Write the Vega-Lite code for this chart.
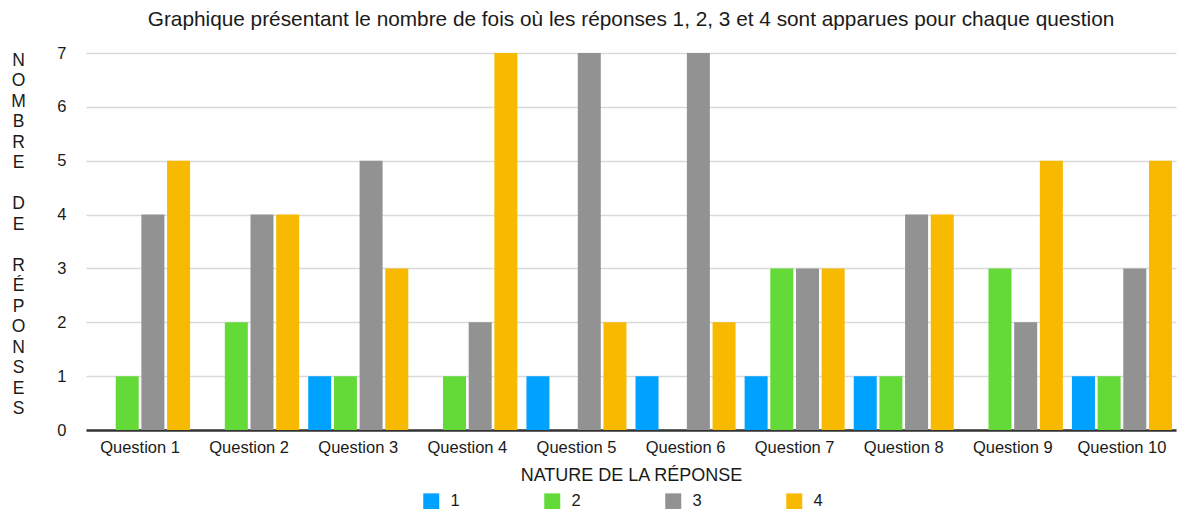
{
  "$schema": "https://vega.github.io/schema/vega-lite/v6.json",
  "autosize": {"type": "none"},
  "width": 1090,
  "height": 377,
  "padding": {"left": 86, "top": 53, "right": 2, "bottom": 79},
  "background": "white",
  "config": {
    "font": "Liberation Sans",
    "view": {"stroke": null}
  },
  "title": {
    "text": "Graphique présentant le nombre de fois où les réponses 1, 2, 3 et 4 sont apparues pour chaque question",
    "fontSize": 20.8,
    "fontWeight": "normal",
    "color": "#1a1a1a",
    "anchor": "middle",
    "offset": 14
  },
  "data": {
    "values": [
      {"question": "Question 1", "reponse": "1", "n": 0},
      {"question": "Question 1", "reponse": "2", "n": 1},
      {"question": "Question 1", "reponse": "3", "n": 4},
      {"question": "Question 1", "reponse": "4", "n": 5},
      {"question": "Question 2", "reponse": "1", "n": 0},
      {"question": "Question 2", "reponse": "2", "n": 2},
      {"question": "Question 2", "reponse": "3", "n": 4},
      {"question": "Question 2", "reponse": "4", "n": 4},
      {"question": "Question 3", "reponse": "1", "n": 1},
      {"question": "Question 3", "reponse": "2", "n": 1},
      {"question": "Question 3", "reponse": "3", "n": 5},
      {"question": "Question 3", "reponse": "4", "n": 3},
      {"question": "Question 4", "reponse": "1", "n": 0},
      {"question": "Question 4", "reponse": "2", "n": 1},
      {"question": "Question 4", "reponse": "3", "n": 2},
      {"question": "Question 4", "reponse": "4", "n": 7},
      {"question": "Question 5", "reponse": "1", "n": 1},
      {"question": "Question 5", "reponse": "2", "n": 0},
      {"question": "Question 5", "reponse": "3", "n": 7},
      {"question": "Question 5", "reponse": "4", "n": 2},
      {"question": "Question 6", "reponse": "1", "n": 1},
      {"question": "Question 6", "reponse": "2", "n": 0},
      {"question": "Question 6", "reponse": "3", "n": 7},
      {"question": "Question 6", "reponse": "4", "n": 2},
      {"question": "Question 7", "reponse": "1", "n": 1},
      {"question": "Question 7", "reponse": "2", "n": 3},
      {"question": "Question 7", "reponse": "3", "n": 3},
      {"question": "Question 7", "reponse": "4", "n": 3},
      {"question": "Question 8", "reponse": "1", "n": 1},
      {"question": "Question 8", "reponse": "2", "n": 1},
      {"question": "Question 8", "reponse": "3", "n": 4},
      {"question": "Question 8", "reponse": "4", "n": 4},
      {"question": "Question 9", "reponse": "1", "n": 0},
      {"question": "Question 9", "reponse": "2", "n": 3},
      {"question": "Question 9", "reponse": "3", "n": 2},
      {"question": "Question 9", "reponse": "4", "n": 5},
      {"question": "Question 10", "reponse": "1", "n": 1},
      {"question": "Question 10", "reponse": "2", "n": 1},
      {"question": "Question 10", "reponse": "3", "n": 3},
      {"question": "Question 10", "reponse": "4", "n": 5}
    ]
  },
  "mark": {"type": "bar"},
  "encoding": {
    "x": {
      "field": "question",
      "type": "nominal",
      "sort": null,
      "scale": {"paddingInner": 0.083, "paddingOuter": 0.037},
      "axis": {
        "title": "NATURE DE LA RÉPONSE",
        "titleFontSize": 18,
        "titleFontWeight": "normal",
        "titleColor": "#1a1a1a",
        "titlePadding": 11,
        "labelAngle": 0,
        "labelFontSize": 16.5,
        "labelColor": "#1a1a1a",
        "labelPadding": 9,
        "ticks": false,
        "domainColor": "#333333",
        "domainWidth": 2.5
      }
    },
    "xOffset": {
      "field": "reponse",
      "type": "nominal",
      "scale": {"paddingInner": 0.104, "paddingOuter": 0}
    },
    "y": {
      "field": "n",
      "type": "quantitative",
      "scale": {"domain": [0, 7], "nice": false},
      "axis": {
        "values": [0, 1, 2, 3, 4, 5, 6, 7],
        "title": ["N", "O", "M", "B", "R", "E", "\u2800", "D", "E", "\u2800", "R", "É", "P", "O", "N", "S", "E", "S"],
        "titleAngle": 0,
        "titleAlign": "center",
        "titleBaseline": "top",
        "titleFontSize": 17.5,
        "titleFontWeight": "normal",
        "titleColor": "#1a1a1a",
        "titleLineHeight": 20.5,
        "titleX": -68,
        "titleY": -2,
        "labelFontSize": 16.5,
        "labelColor": "#1a1a1a",
        "labelPadding": 20,
        "ticks": false,
        "domain": false,
        "gridColor": "#d9d9d9",
        "gridWidth": 1.5
      }
    },
    "color": {
      "field": "reponse",
      "type": "nominal",
      "scale": {"domain": ["1", "2", "3", "4"], "range": ["#00a2ff", "#63da38", "#929292", "#f8ba00"]},
      "legend": {
        "title": null,
        "orient": "none",
        "direction": "horizontal",
        "columns": 4,
        "columnPadding": 84,
        "legendX": 337,
        "legendY": 440,
        "symbolType": "square",
        "symbolSize": 256,
        "symbolStrokeWidth": 0,
        "symbolOpacity": 1,
        "labelFontSize": 16.5,
        "labelColor": "#1a1a1a",
        "labelOffset": 11
      }
    }
  }
}
